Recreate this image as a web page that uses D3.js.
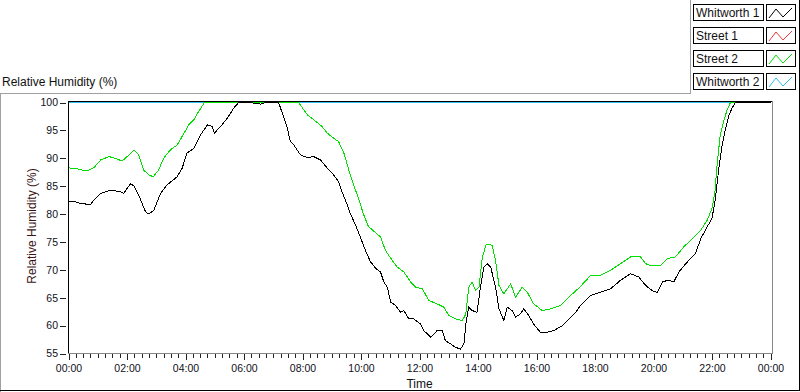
<!DOCTYPE html>
<html>
<head>
<meta charset="utf-8">
<script src="https://cdn.jsdelivr.net/npm/d3@7"></script>
<style>
  body { margin: 0; background: #fff; }
  svg { display: block; font-family: "Liberation Sans", Arial, sans-serif; }
</style>
</head>
<body>
<svg id="chart" width="800" height="392"></svg>
<script>
// Legend entries (plot order)
const seriesNames = ['Whitworth 1', 'Street 1', 'Street 2', 'Whitworth 2'];
const seriesColors = ['#000000', '#ee3a3a', '#00e000', '#33bbee'];

// Whitworth 1 : minutes after midnight / relative humidity (%)
const w1Minutes = [0, 11, 25, 45, 52, 66, 86, 107, 113, 127, 134, 144, 158, 165, 175, 189, 202, 223, 233, 243,
  257, 271, 285, 295, 299, 312, 326, 339, 349, 373, 394, 404, 431, 435, 449, 455, 462, 476, 490, 503,
  517, 531, 544, 554, 561, 572, 578, 589, 599, 609, 619, 630, 640, 647, 654, 661, 671, 681, 688, 698,
  708, 722, 729, 743, 756, 767, 773, 784, 794, 804, 811, 816, 821, 828, 838, 845, 852, 859, 866, 876,
  883, 893, 900, 910, 917, 927, 934, 944, 954, 968, 982, 995, 1013, 1030, 1040, 1050, 1071, 1091, 1112, 1132,
  1153, 1170, 1184, 1197, 1208, 1218, 1228, 1242, 1252, 1266, 1286, 1297, 1310, 1320, 1327, 1334, 1341, 1348, 1354, 1361,
  1368, 1440];
const w1Values = [82.2, 82.3, 81.9, 81.7, 82.5, 83.7, 84.3, 84.0, 83.7, 85.4, 85.1, 83.4, 80.4, 80.0, 80.7, 83.7, 85.2, 86.7, 88.2, 90.9,
  91.8, 94.2, 96.0, 95.7, 94.5, 95.7, 97.2, 99.0, 100, 100, 99.7, 100, 100, 99.0, 95.4, 93.0, 92.4, 90.6, 90.1, 90.3,
  89.7, 88.2, 87.0, 85.8, 84.0, 81.6, 80.1, 78.0, 75.8, 73.5, 71.5, 70.3, 69.6, 67.8, 66.9, 64.2, 63.6, 62.4, 62.7, 61.2,
  61.2, 60.3, 59.1, 57.9, 59.1, 59.1, 57.3, 56.7, 56.1, 55.8, 56.7, 60.9, 63.3, 62.7, 62.4, 66.9, 70.5, 71.1, 70.5, 66.9,
  63.0, 60.9, 63.3, 62.7, 61.5, 62.1, 63.0, 61.8, 60.3, 58.8, 58.8, 59.1, 60.0, 61.5, 62.3, 63.6, 65.4, 66.0, 66.6, 68.1,
  69.3, 68.7, 67.2, 66.3, 65.9, 67.8, 68.1, 67.9, 69.6, 71.1, 72.9, 75.6, 77.7, 79.2, 82.8, 88.2, 92.4, 95.4, 97.5, 99.0,
  100, 100];

// Street 1 : nothing visible on the graph
const s1Minutes = [];
const s1Values = [];

// Street 2
const s2Minutes = [0, 18, 38, 52, 66, 83, 96, 110, 124, 134, 144, 154, 165, 174, 185, 195, 209, 223, 237, 247,
  257, 267, 279, 472, 476, 490, 503, 520, 531, 544, 554, 565, 575, 585, 595, 605, 615, 628, 640, 650,
  664, 674, 688, 702, 712, 726, 739, 756, 770, 780, 794, 808, 815, 821, 828, 835, 842, 849, 857, 869,
  876, 883, 893, 907, 917, 931, 941, 954, 972, 989, 1009, 1030, 1050, 1071, 1091, 1112, 1132, 1153, 1173, 1184,
  1197, 1214, 1228, 1245, 1262, 1283, 1297, 1310, 1320, 1326, 1331, 1337, 1344, 1351, 1358, 1440];
const s2Values = [88.3, 88.1, 87.7, 88.3, 89.7, 90.3, 90.0, 89.5, 90.6, 91.5, 90.6, 87.9, 87.0, 86.7, 87.9, 90.0, 91.5, 92.4, 94.5, 96.0,
  96.9, 98.4, 100, 100, 99.5, 97.8, 96.9, 95.7, 94.5, 93.6, 93.0, 90.9, 87.9, 85.2, 82.8, 80.0, 77.8, 76.8, 75.9, 73.5,
  71.7, 70.5, 69.6, 67.8, 66.9, 66.6, 64.5, 63.9, 63.3, 61.8, 61.2, 60.9, 62.1, 66.9, 67.8, 66.3, 66.9, 72.3, 74.6, 74.4,
  71.7, 67.2, 65.7, 67.5, 65.1, 66.9, 66.0, 63.9, 62.7, 63.0, 63.6, 65.4, 67.0, 69.0, 69.0, 69.9, 71.1, 72.3, 72.4, 71.1,
  70.7, 70.7, 72.0, 72.3, 74.1, 75.9, 77.1, 78.9, 81.0, 84.0, 89.4, 94.2, 96.6, 98.7, 100, 100];

// Whitworth 2 : flat at the top of the scale
const w2Minutes = [0, 1440];
const w2Values = [100, 100];

const yTicks = [55, 60, 65, 70, 75, 80, 85, 90, 95, 100];

const svg = d3.select('#chart');
const day0 = new Date(2000, 0, 1);
const toDate = (m) => d3.timeMinute.offset(day0, m);

let x = d3.scaleTime()
          .domain([day0, toDate(1440)])
          .range([68.5, 770.5]);
let y = d3.scaleLinear()
          .domain([55, 100])
          .range([353.5, 102.5]);

// Outer panel frame
const frame = svg.append('g').attr('fill', 'none').attr('shape-rendering', 'crispEdges');
frame.append('path').attr('d', 'M0.5,392V93.5H690.5V0').attr('stroke', '#a0a0a0');
frame.append('path').attr('d', 'M799.5,0V390.5H0').attr('stroke', '#000');

// Graph title
svg.append('text')
   .attr('x', 2).attr('y', 86)
   .attr('font-size', 12).attr('fill', '#111')
   .text('Relative Humidity (%)');

// Plot area border
const border = svg.append('g').attr('fill', 'none').attr('shape-rendering', 'crispEdges');
border.append('path').attr('d', 'M68.5,353V101.5H772').attr('stroke', '#000');
border.append('path').attr('d', 'M68,353.5H772.5V101').attr('stroke', '#888');

svg.append('clipPath').attr('id', 'clip')
   .append('rect').attr('x', 69).attr('y', 102).attr('width', 703).attr('height', 251);

const line = d3.line()
               .x((d) => x(toDate(d.t)))
               .y((d) => y(d.v));

const series = [
  {minutes: w1Minutes, values: w1Values},
  {minutes: s1Minutes, values: s1Values},
  {minutes: s2Minutes, values: s2Values},
  {minutes: w2Minutes, values: w2Values}
].map((s, i) => ({name: seriesNames[i], color: seriesColors[i],
                  points: s.minutes.map((t, j) => ({t: t, v: s.values[j]}))}));

// last entry drawn first, Whitworth 1 ends up on top
svg.append('g').attr('clip-path', 'url(#clip)')
   .selectAll('path')
   .data(series.slice().reverse().filter((s) => s.points.length))
   .enter()
   .append('path')
   .attr('fill', 'none')
   .attr('stroke', (d) => d.color)
   .attr('stroke-width', 1)
   .attr('shape-rendering', 'crispEdges')
   .attr('d', (d) => line(d.points));

// Y axis
const yAxis = svg.append('g')
   .attr('transform', 'translate(66,0)')
   .call(d3.axisLeft(y).tickValues(yTicks).tickSize(6).tickPadding(2));
yAxis.select('.domain').remove();
yAxis.selectAll('line').attr('stroke', '#222').attr('shape-rendering', 'crispEdges');
yAxis.selectAll('text').attr('font-size', 10.5).attr('fill', '#101020')
     .attr('font-family', '"Liberation Sans", Arial, sans-serif');

svg.append('text')
   .attr('transform', 'translate(36,' + 226 + ') rotate(-90)')
   .attr('text-anchor', 'middle')
   .attr('font-size', 12).attr('fill', '#3a1414')
   .text('Relative Humidity (%)');

// X axis: minor ticks every 15 min, labels every 2 h
const xMinor = svg.append('g')
   .attr('transform', 'translate(0,354)')
   .call(d3.axisBottom(x).ticks(d3.timeMinute.every(15)).tickSize(4).tickFormat(''));
xMinor.select('.domain').remove();
xMinor.selectAll('line').attr('stroke', '#222').attr('shape-rendering', 'crispEdges');

const xAxis = svg.append('g')
   .attr('transform', 'translate(0,354)')
   .call(d3.axisBottom(x).ticks(d3.timeHour.every(2)).tickSize(6).tickFormat(d3.timeFormat('%H:%M')));
xAxis.select('.domain').remove();
xAxis.selectAll('line').attr('stroke', '#222').attr('shape-rendering', 'crispEdges');
xAxis.selectAll('text').attr('y', 18).attr('dy', 0)
     .attr('font-size', 10.5).attr('fill', '#101020')
     .attr('font-family', '"Liberation Sans", Arial, sans-serif');

svg.append('text')
   .attr('x', x(toDate(720))).attr('y', 388)
   .attr('text-anchor', 'middle')
   .attr('font-size', 12).attr('fill', '#111')
   .text('Time');

// Legend
const legend = svg.append('g')
   .selectAll('g')
   .data(series)
   .enter()
   .append('g')
   .attr('transform', (d, i) => 'translate(0,' + (4 + i * 23) + ')');

legend.append('rect')
   .attr('x', 693.5).attr('y', 0.5).attr('width', 70).attr('height', 16)
   .attr('fill', '#fff').attr('stroke', '#000').attr('shape-rendering', 'crispEdges');
legend.append('text')
   .attr('x', 696).attr('y', 13)
   .attr('font-size', 12).attr('fill', '#111')
   .text((d) => d.name);
legend.append('rect')
   .attr('x', 766.5).attr('y', 0.5).attr('width', 29).attr('height', 16)
   .attr('fill', '#fff').attr('stroke', '#000').attr('shape-rendering', 'crispEdges');
legend.append('path')
   .attr('fill', 'none')
   .attr('stroke', (d) => d.color)
   .attr('d', 'M769,14L776,5L783,13L792,4');
</script>
</body>
</html>
